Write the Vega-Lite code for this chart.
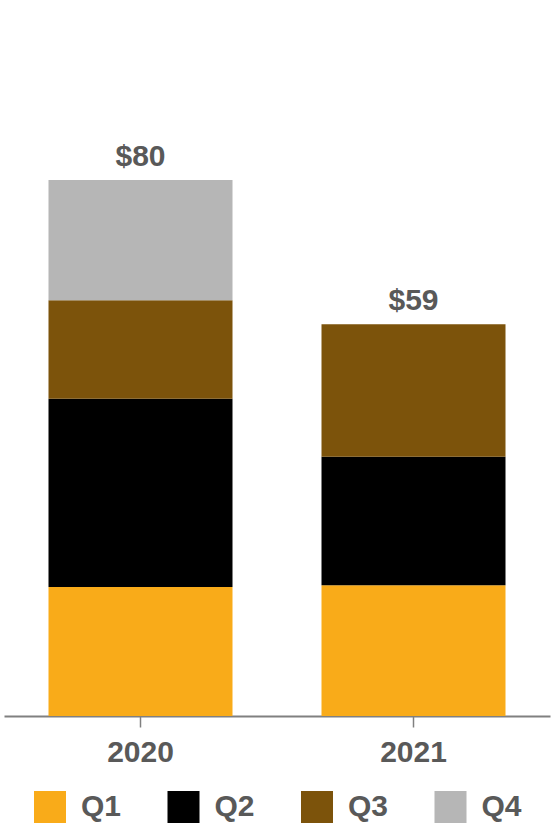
{
  "$schema": "https://vega.github.io/schema/vega-lite/v6.json",
  "width": 546,
  "height": 716,
  "autosize": {"type": "none"},
  "padding": {"left": 4, "top": 0, "right": 1, "bottom": 111},
  "background": "white",
  "config": {
    "view": {"stroke": null},
    "font": "Liberation Sans"
  },
  "data": {
    "values": [
      {"year": "2020", "quarter": "Q1", "value": 19.33},
      {"year": "2020", "quarter": "Q2", "value": 28.21},
      {"year": "2020", "quarter": "Q3", "value": 14.74},
      {"year": "2020", "quarter": "Q4", "value": 18.02},
      {"year": "2021", "quarter": "Q1", "value": 19.58},
      {"year": "2021", "quarter": "Q2", "value": 19.27},
      {"year": "2021", "quarter": "Q3", "value": 19.84}
    ]
  },
  "encoding": {
    "x": {
      "field": "year",
      "type": "nominal",
      "scale": {"paddingInner": 0.326, "paddingOuter": 0.163},
      "axis": {
        "title": null,
        "labelAngle": 0,
        "labelFont": "Liberation Sans",
        "labelFontSize": 30,
        "labelFontWeight": "bold",
        "labelColor": "#595959",
        "labelPadding": 10,
        "domainColor": "#808080",
        "domainWidth": 2,
        "tickColor": "#808080",
        "tickWidth": 1.5,
        "tickSize": 11
      }
    }
  },
  "layer": [
    {
      "mark": {"type": "bar", "strokeWidth": 0},
      "encoding": {
        "y": {
          "field": "value",
          "type": "quantitative",
          "aggregate": "sum",
          "stack": "zero",
          "scale": {"domain": [0, 107.27], "nice": false, "zero": true},
          "axis": null
        },
        "color": {
          "field": "quarter",
          "type": "nominal",
          "scale": {
            "domain": ["Q1", "Q2", "Q3", "Q4"],
            "range": ["#F9AB19", "#000000", "#7C530B", "#B6B6B6"]
          },
          "legend": {
            "title": null,
            "orient": "none",
            "direction": "horizontal",
            "legendX": 30,
            "legendY": 791,
            "symbolType": "square",
            "symbolSize": 1024,
            "symbolStrokeWidth": 0,
            "symbolOpacity": 1,
            "labelFont": "Liberation Sans",
            "labelFontSize": 30,
            "labelFontWeight": "bold",
            "labelColor": "#595959",
            "labelOffset": 15,
            "columnPadding": 45.5
          }
        },
        "order": {"field": "quarter", "type": "nominal", "sort": "ascending"}
      }
    },
    {
      "transform": [
        {"aggregate": [{"op": "sum", "field": "value", "as": "total"}], "groupby": ["year"]}
      ],
      "mark": {
        "type": "text",
        "align": "center",
        "baseline": "alphabetic",
        "dy": -14,
        "font": "Liberation Sans",
        "fontSize": 30,
        "fontWeight": "bold",
        "color": "#595959"
      },
      "encoding": {
        "y": {"field": "total", "type": "quantitative"},
        "text": {"field": "total", "type": "quantitative", "format": "$.0f"}
      }
    }
  ]
}
